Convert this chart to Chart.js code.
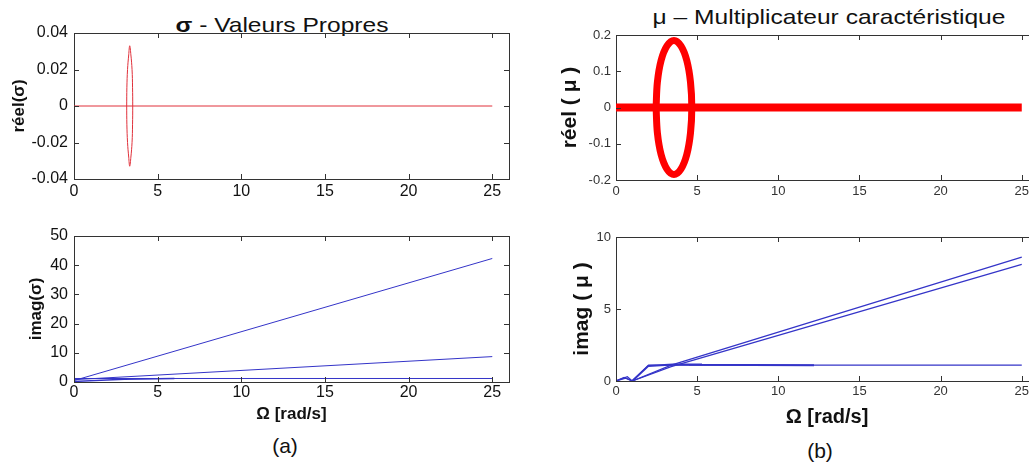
<!DOCTYPE html>
<html lang="fr">
<head>
  <meta charset="UTF-8" />
  <title>Valeurs propres et multiplicateur caractéristique</title>
  <script src="https://cdn.jsdelivr.net/npm/chart.js"></script>
  <style>
    html, body { margin: 0; padding: 0; background: #fff; overflow: hidden; }
    body { width: 1029px; height: 462px; position: relative; font-family: "Liberation Sans", Arial, sans-serif; }
    .plot { position: absolute; }
    .txt { position: absolute; white-space: nowrap; line-height: 1; color: #111; }
    .wide { transform: scaleX(1.17); transform-origin: center; }
  </style>
</head>
<body>

  <div class="txt wide" style="left:182px; width:200px; top:14px; font-size:21px; text-align:center;"><b>σ</b> - Valeurs Propres</div>
  <div class="txt wide" style="left:629px; width:400px; top:6px; font-size:21px; text-align:center;">μ – Multiplicateur caractéristique</div>

  <div class="plot" style="left:0; top:0; width:520px; height:200px;"><canvas id="reSigma"></canvas></div>
  <div class="plot" style="left:0; top:200px; width:520px; height:232px;"><canvas id="imSigma"></canvas></div>
  <div class="plot" style="left:520px; top:0; width:530px; height:200px;"><canvas id="reMu"></canvas></div>
  <div class="plot" style="left:520px; top:200px; width:530px; height:235px;"><canvas id="imMu"></canvas></div>

  <div class="txt" style="left:235px; width:100px; top:435px; font-size:21px; text-align:center;">(a)</div>
  <div class="txt" style="left:770px; width:100px; top:440px; font-size:21px; text-align:center;">(b)</div>

  <script>
    // tick values
    const omegaTicks = [0, 5, 10, 15, 20, 25];
    const reSigmaTicks = [-0.04, -0.02, 0, 0.02, 0.04];
    const imSigmaTicks = [0, 10, 20, 30, 40, 50];
    const reMuTicks = [-0.2, -0.1, 0, 0.1, 0.2];
    const imMuTicks = [0, 5, 10];

    // (a) real part of sigma
    const reSigmaLineX = [0, 25];
    const reSigmaLineY = [0, 0];
    const reSigmaLoopX = [3.15, 3.16, 3.20, 3.27, 3.33, 3.40, 3.47, 3.50, 3.51, 3.50, 3.47, 3.40, 3.33, 3.27, 3.20, 3.16, 3.15];
    const reSigmaLoopY = [0, 0.010, 0.020, 0.028, 0.033, 0.028, 0.020, 0.010, 0, -0.010, -0.020, -0.028, -0.033, -0.028, -0.020, -0.010, 0];

    // (a) imaginary part of sigma
    const imSigma1X = [0, 25];
    const imSigma1Y = [0.5, 42.3];
    const imSigma2X = [0, 25];
    const imSigma2Y = [0.8, 8.7];
    const imSigma3X = [0, 25];
    const imSigma3Y = [1.2, 1.2];
    const imSigma4X = [0, 3, 6];
    const imSigma4Y = [0.2, 0.9, 1.2];

    // (b) real part of mu
    const reMuLineX = [0, 25];
    const reMuLineY = [0, 0];
    const reMuLoopX = [2.47, 2.55, 2.78, 3.14, 3.57, 4.00, 4.36, 4.59, 4.67, 4.59, 4.36, 4.00, 3.57, 3.14, 2.78, 2.55, 2.47];
    const reMuLoopY = [0, 0.07, 0.13, 0.17, 0.185, 0.17, 0.13, 0.07, 0, -0.07, -0.13, -0.17, -0.185, -0.17, -0.13, -0.07, 0];

    // (b) imaginary part of mu
    const imMu1X = [0, 0.5, 1.0, 3.4, 25];
    const imMu1Y = [0, 0.25, 0, 1.1, 8.6];
    const imMu2X = [0, 0.6, 1.0, 3.4, 25];
    const imMu2Y = [0, 0.2, 0, 1.0, 8.1];
    const imMu3X = [0, 0.7, 1.0, 2.0, 25];
    const imMu3Y = [0, 0.3, 0, 1.1, 1.1];
    const imMu4X = [1.0, 2.0, 3.5, 5.3, 4.5, 12.2];
    const imMu4Y = [0, 1.05, 1.15, 1.15, 1.12, 1.1];

    const pts = (xs, ys) => xs.map((x, i) => ({ x: x, y: ys[i] }));

    function series(xs, ys, color, width, tension) {
      return {
        data: pts(xs, ys),
        borderColor: color,
        borderWidth: width,
        pointRadius: 0,
        tension: tension || 0,
        fill: false
      };
    }

    // MATLAB style: short tick marks pointing into the box, on all four sides
    const inwardTicks = {
      id: 'inwardTicks',
      afterDatasetsDraw(chart) {
        const { ctx, chartArea: a } = chart;
        const len = 5;
        ctx.save();
        ctx.strokeStyle = '#333';
        ctx.lineWidth = 1;
        Object.values(chart.scales).forEach(s => {
          s.ticks.forEach(t => {
            const p = Math.round(s.getPixelForValue(t.value)) + 0.5;
            ctx.beginPath();
            if (s.position === 'bottom') { ctx.moveTo(p, a.bottom); ctx.lineTo(p, a.bottom - len); }
            else if (s.position === 'top') { ctx.moveTo(p, a.top); ctx.lineTo(p, a.top + len); }
            else if (s.position === 'left') { ctx.moveTo(a.left, p); ctx.lineTo(a.left + len, p); }
            else { ctx.moveTo(a.right, p); ctx.lineTo(a.right - len, p); }
            ctx.stroke();
          });
        });
        ctx.restore();
      }
    };

    function makePlot(id, o) {
      const setTicks = list => s => { s.ticks = list.map(v => ({ value: v })); };
      const frame = { color: '#333', width: 1 };
      const grid = { drawOnChartArea: false, drawTicks: false };
      const tickFont = { family: o.tickFamily, size: o.tickSize };

      return new Chart(document.getElementById(id), {
        type: 'line',
        data: { datasets: o.datasets },
        plugins: [inwardTicks],
        options: {
          responsive: true,
          maintainAspectRatio: false,
          animation: false,
          layout: { padding: 0 },
          plugins: { legend: { display: false }, tooltip: { enabled: false } },
          scales: {
            x: {
              type: 'linear', position: 'bottom', min: 0, max: 26,
              afterBuildTicks: setTicks(omegaTicks),
              afterFit: s => { s.height = o.bottom; },
              grid: grid, border: frame,
              ticks: { font: tickFont, color: o.tickColor, padding: o.xPad, maxRotation: 0, callback: v => String(v) },
              title: o.xTitle ? { display: true, text: o.xTitle, color: '#111', padding: o.xTitlePad,
                font: { family: 'Liberation Sans', size: o.xTitleSize, weight: 'bold' } } : { display: false }
            },
            x2: {
              type: 'linear', position: 'top', min: 0, max: 26,
              afterBuildTicks: setTicks(omegaTicks),
              afterFit: s => { s.height = o.top; },
              grid: grid, border: frame, ticks: { display: false }
            },
            y: {
              type: 'linear', position: 'left', min: o.yTicks[0], max: o.yTicks[o.yTicks.length - 1],
              afterBuildTicks: setTicks(o.yTicks),
              afterFit: s => { s.width = o.left; },
              grid: grid, border: frame,
              ticks: { font: tickFont, color: o.tickColor, padding: o.yPad, callback: v => String(v) },
              title: { display: true, text: o.yTitle, color: '#111', padding: o.yTitlePad,
                font: { family: 'Liberation Sans', size: o.yTitleSize, weight: 'bold' } }
            },
            y2: {
              type: 'linear', position: 'right', min: o.yTicks[0], max: o.yTicks[o.yTicks.length - 1],
              afterBuildTicks: setTicks(o.yTicks),
              afterFit: s => { s.width = o.right; },
              grid: grid, border: frame, ticks: { display: false }
            }
          }
        }
      });
    }

    const redThin = '#e0303a';
    const redThick = '#ff0000';
    const blue = '#3434c8';

    makePlot('reSigma', {
      datasets: [
        series(reSigmaLineX, reSigmaLineY, redThin, 1),
        series(reSigmaLoopX, reSigmaLoopY, redThin, 1, 0.4)
      ],
      yTicks: reSigmaTicks, yTitle: 'réel(σ)', yTitleSize: 17, yTitlePad: 9,
      tickFamily: 'Liberation Sans', tickSize: 16, tickColor: '#111', xPad: 3, yPad: 6,
      left: 74, right: 11, top: 33, bottom: 21
    });

    makePlot('imSigma', {
      datasets: [
        series(imSigma1X, imSigma1Y, blue, 1),
        series(imSigma2X, imSigma2Y, blue, 1),
        series(imSigma3X, imSigma3Y, blue, 1),
        series(imSigma4X, imSigma4Y, blue, 1.5)
      ],
      yTicks: imSigmaTicks, yTitle: 'imag(σ)', yTitleSize: 17, yTitlePad: 26,
      xTitle: 'Ω [rad/s]', xTitleSize: 17, xTitlePad: 7,
      tickFamily: 'Liberation Sans', tickSize: 16, tickColor: '#111', xPad: 1, yPad: 6,
      left: 74, right: 11, top: 36, bottom: 50
    });

    makePlot('reMu', {
      datasets: [
        series(reMuLineX, reMuLineY, redThick, 8),
        series(reMuLoopX, reMuLoopY, redThick, 7, 0.35)
      ],
      yTicks: reMuTicks, yTitle: 'réel ( μ )', yTitleSize: 21, yTitlePad: 38,
      tickFamily: 'Liberation Sans', tickSize: 13, tickColor: '#333', xPad: 4, yPad: 5,
      left: 96, right: 12, top: 35, bottom: 20
    });

    makePlot('imMu', {
      datasets: [
        series(imMu1X, imMu1Y, blue, 1.2),
        series(imMu2X, imMu2Y, blue, 1.2),
        series(imMu3X, imMu3Y, blue, 1.2),
        series(imMu4X, imMu4Y, blue, 2)
      ],
      yTicks: imMuTicks, yTitle: 'imag ( μ )', yTitleSize: 21, yTitlePad: 50,
      xTitle: 'Ω [rad/s]', xTitleSize: 20, xTitlePad: 6,
      tickFamily: 'Liberation Sans', tickSize: 13, tickColor: '#333', xPad: 3, yPad: 5,
      left: 96, right: 12, top: 37, bottom: 54
    });
  </script>
</body>
</html>
